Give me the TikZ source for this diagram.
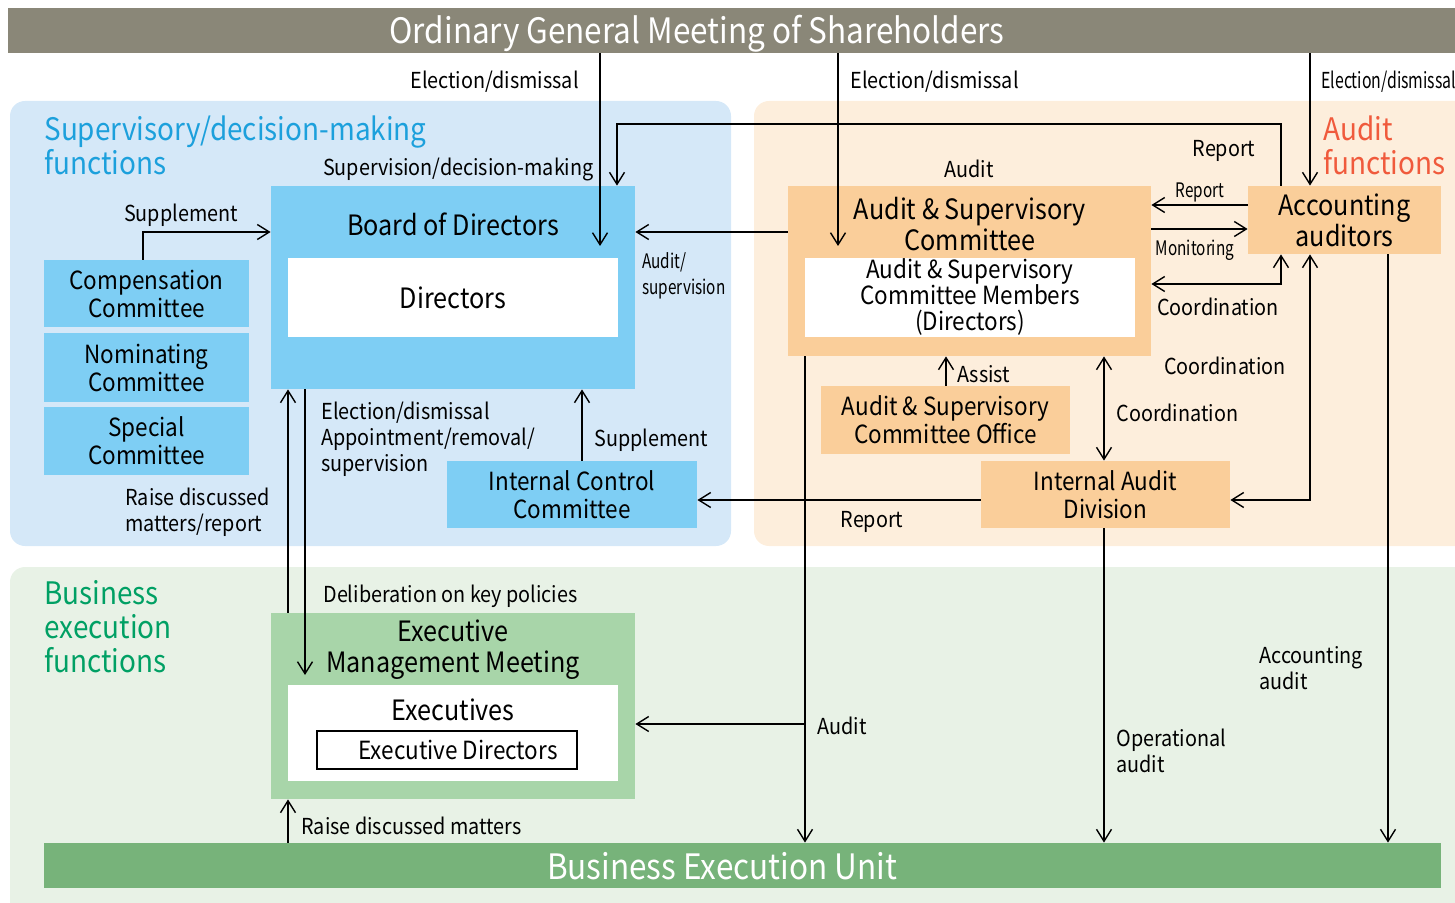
\documentclass[tikz,border=0pt]{standalone}
\usepackage{fontspec}
\setmainfont{Noto Sans CJK JP}[FakeStretch=0.9]
\usetikzlibrary{arrows.meta}

\definecolor{gmsgray}{RGB}{138,135,120}
\definecolor{supbg}{RGB}{213,232,248}
\definecolor{audbg}{RGB}{253,238,220}
\definecolor{exebg}{RGB}{232,242,230}
\definecolor{supfill}{RGB}{126,206,244}
\definecolor{audfill}{RGB}{250,206,154}
\definecolor{exefill}{RGB}{168,213,169}
\definecolor{beugreen}{RGB}{119,179,122}
\definecolor{suptext}{RGB}{28,160,220}
\definecolor{audtext}{RGB}{240,90,60}
\definecolor{exetext}{RGB}{0,160,100}

\begin{document}
\begin{tikzpicture}[x=0.5pt, y=-0.5pt,
  region/.style={rounded corners=7.5pt},
  regiontitle/.style={anchor=west, align=left, inner sep=0pt, font=\fontsize{15.5}{17}\selectfont},
  box/.style={rectangle, inner sep=0pt, align=center, font=\fontsize{12.5}{14}\selectfont},
  supbox/.style={box, fill=supfill},
  audbox/.style={box, fill=audfill},
  exebox/.style={box, fill=exefill},
  whitebox/.style={box, fill=white},
  boxtitle/.style={align=center, inner sep=0pt, font=\fontsize{14}{15.5}\selectfont},
  bartext/.style={text=white, inner sep=0pt, font=\fontsize{17.5}{20}\selectfont},
  note/.style={align=left, inner sep=1pt, yshift=-1pt, font=\fontsize{11}{13}\selectfont},
  smallnote/.style={align=left, inner sep=1pt, yshift=-1pt, font=\fontsize{10}{13}\selectfont},
  arr/.style={-{Straight Barb[length=6pt,width=7.5pt]}, line width=0.7pt},
  arr2/.style={{Straight Barb[length=6pt,width=7.5pt]}-{Straight Barb[length=6pt,width=7.5pt]}, line width=0.7pt}
]
\useasboundingbox (0,0) rectangle (1455,903);

% Background regions
\fill[supbg, region] (10,101) rectangle (731,546);
\fill[audbg, region] (754,101) rectangle (1480,546);
\fill[exebg, region] (10,567) rectangle (1480,920);

\node[regiontitle, text=suptext] (suptitle) at (44,145) {Supervisory/decision-making\\functions};
\node[regiontitle, text=audtext] (audtitle) at (1323,145) {Audit\\functions};
\node[regiontitle, text=exetext] (exetitle) at (44,627) {Business\\execution\\functions};

% Top bar
\node[fill=gmsgray, inner sep=0pt, minimum width=723.5pt, minimum height=22.5pt] (gms) at (731.5,30.5) {};
\node[bartext] (gmstext) at (697,34) {Ordinary General Meeting of Shareholders};

% Supervisory side
\node[supbox, minimum width=182pt, minimum height=101.5pt] (board) at (453,287.5) {};
\node[boxtitle] (boardtitle) at (453,224) {Board of Directors};
\node[whitebox, minimum width=165pt, minimum height=39.5pt, font=\fontsize{14}{15.5}\selectfont] (directors) at (453,297.5) {Directors};
\node[supbox, minimum width=102.5pt, minimum height=33.5pt] (comp) at (146.5,293.5) {Compensation\\Committee};
\node[supbox, minimum width=102.5pt, minimum height=34.5pt] (nom) at (146.5,367.5) {Nominating\\Committee};
\node[supbox, minimum width=102.5pt, minimum height=34pt] (spec) at (146.5,441) {Special\\Committee};
\node[supbox, minimum width=125pt, minimum height=33.5pt] (icc) at (572,494.5) {Internal Control\\Committee};

% Audit side
\node[audbox, minimum width=181.5pt, minimum height=85pt] (asc) at (969.5,271) {};
\node[boxtitle] (asctitle) at (970,224.5) {Audit \& Supervisory\\Committee};
\node[whitebox, minimum width=165pt, minimum height=39.5pt, font=\fontsize{12.5}{13}\selectfont] (ascm) at (970,297.5) {Audit \& Supervisory\\Committee Members\\(Directors)};
\node[audbox, minimum width=96.5pt, minimum height=34pt, font=\fontsize{14}{15.5}\selectfont] (acc) at (1344.5,220) {Accounting\\auditors};
\node[audbox, minimum width=124.5pt, minimum height=34pt] (aso) at (945.5,420) {Audit \& Supervisory\\Committee Office};
\node[audbox, minimum width=124.5pt, minimum height=33.5pt] (iad) at (1105.5,494.5) {Internal Audit\\Division};

% Execution side
\node[exebox, minimum width=182pt, minimum height=93pt] (emm) at (453,706) {};
\node[boxtitle] (emmtitle) at (453,650) {Executive\\Management Meeting};
\node[whitebox, minimum width=165pt, minimum height=48pt] (execs) at (453,733) {};
\node[boxtitle] (execstitle) at (453,710) {Executives};
\node[whitebox, draw, line width=0.6pt, minimum width=130pt, minimum height=19pt] (edir) at (447,750) {\hspace*{11pt}Executive Directors};
\node[fill=beugreen, inner sep=0pt, minimum width=698.5pt, minimum height=22.5pt,
  label={[bartext, xshift=-10.25pt, yshift=-0.5pt]center:Business Execution Unit}] (beu) at (742.5,865.5) {};

% Election/dismissal
\coordinate (e1) at (600,246);
\coordinate (e2) at (838,246);
\coordinate (e3) at (1310,0);
\draw[arr] (gms.south -| e1) -- (e1);
\draw[arr] (gms.south -| e2) -- (e2);
\draw[arr] (gms.south -| e3) -- (acc.north -| e3);
\node[note, anchor=east] at (581,80) {Election/dismissal};
\node[note, anchor=west] at (848,80) {Election/dismissal};
\node[note, anchor=west] at (1319,80) {\scalebox{0.8}[1]{Election/dismissal}};

% Report from accounting auditors to board
\coordinate (r1) at (1281,124);
\coordinate (r2) at (617,124);
\draw[arr] (acc.north -| r1) -- (r1) -- (r2) -- (board.north -| r2);
\node[note] at (1224,149) {Report};
\node[note, anchor=east] at (596,167) {Supervision/decision-making};
\node[note] at (969,167) {Audit};

% Audit/supervision
\coordinate (a1) at (700,232);
\draw[arr] (asc.west |- a1) -- (board.east |- a1);
\node[smallnote, anchor=west] at (640,274) {\scalebox{0.85}[1]{Audit/}\\\scalebox{0.85}[1]{supervision}};

% Supplement
\coordinate (s1) at (143,232);
\draw[arr] (comp.north -| s1) -- (s1) -- (board.west |- s1);
\node[note] at (181,213) {Supplement};
\coordinate (s2) at (582,0);
\draw[arr] (icc.north -| s2) -- (board.south -| s2);
\node[note, anchor=west] at (592,438) {Supplement};

% Report / Monitoring
\coordinate (m1) at (1200,205);
\coordinate (m2) at (1200,229);
\draw[arr] (acc.west |- m1) -- (asc.east |- m1);
\draw[arr] (asc.east |- m2) -- (acc.west |- m2);
\node[smallnote] at (1200,190) {\scalebox{0.85}[1]{Report}};
\node[smallnote] at (1195,248) {\scalebox{0.85}[1]{Monitoring}};

% Coordination
\coordinate (c1) at (1281,284);
\draw[arr2] (asc.east |- c1) -- (c1) -- (acc.south -| c1);
\node[note] at (1218,305) {Coordination};
\coordinate (c2) at (1310,500);
\draw[arr2] (iad.east |- c2) -- (c2) -- (acc.south -| c2);
\node[note] at (1225,364) {Coordination};
\coordinate (c3) at (1104,0);
\draw[arr2] (asc.south -| c3) -- (iad.north -| c3);
\node[note, anchor=west] at (1114,411) {Coordination};

% Assist
\coordinate (as) at (946,0);
\draw[arr] (aso.north -| as) -- (asc.south -| as);
\node[note, anchor=west] at (955,372) {Assist};

% Report to internal control committee
\coordinate (r3) at (0,500);
\draw[arr] (iad.west |- r3) -- (icc.east |- r3);
\node[note] at (872,520) {Report};

% Audits down to business execution unit
\coordinate (d1) at (805,724);
\draw[arr] (asc.south -| d1) -- (beu.north -| d1);
\draw[arr] (d1) -- (emm.east |- d1);
\node[note, anchor=west] at (815,724) {Audit};
\draw[arr] (iad.south -| c3) -- (beu.north -| c3);
\node[note, anchor=west] at (1114,749) {Operational\\audit};
\coordinate (d2) at (1388,0);
\draw[arr] (acc.south -| d2) -- (beu.north -| d2);
\node[note, anchor=west] at (1257,666) {Accounting\\audit};

% Board <-> Executive Management Meeting
\coordinate (b1) at (288,0);
\coordinate (b2) at (305,675);
\draw[arr] (emm.north -| b1) -- (board.south -| b1);
\draw[arr] (board.south -| b2) -- (b2);
\node[note, anchor=west] at (319,437) {Election/dismissal\\Appointment/removal/\\supervision};
\node[note, anchor=west] at (123,510) {Raise discussed\\matters/report};
\node[note, anchor=west] at (321,594) {Deliberation on key policies};
\draw[arr] (beu.north -| b1) -- (emm.south -| b1);
\node[note, anchor=west] at (299,824) {Raise discussed matters};

\end{tikzpicture}
\end{document}
